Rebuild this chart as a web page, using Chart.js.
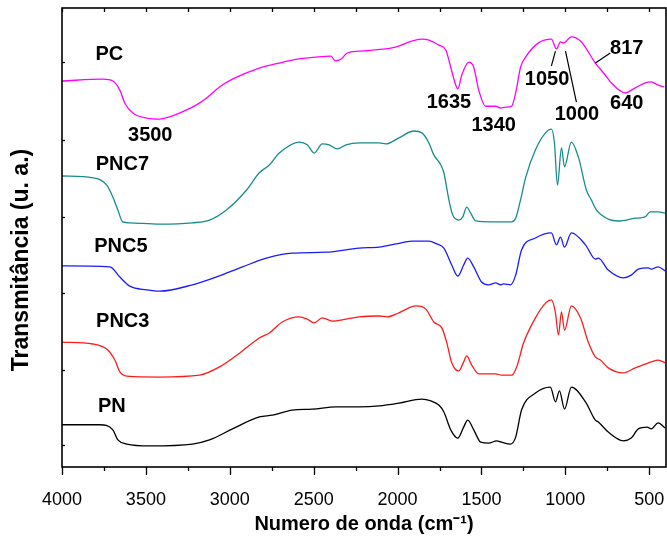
<!DOCTYPE html>
<html>
<head>
<meta charset="utf-8">
<script src="https://cdn.jsdelivr.net/npm/chart.js@4.4.0/dist/chart.umd.min.js"></script>
<style>
  html, body { margin: 0; padding: 0; background: #fff; }
</style>
</head>
<body>
<canvas id="ftirChart" width="667" height="541"></canvas>
<script>
// FTIR spectra (wavenumber in cm-1, transmittance in a.u.)
const pcWn = [4000,3756,3697,3655,3626,3578,3495,3418,3358,3257,3198,3138,3061,2984,2824,2705,2586,2485,2396,2372,2336,2300,2229,2033,1855,1813,1754,1712,1683,1653,1641,1617,1576,1546,1516,1475,1415,1386,1356,1320,1296,1267,1237,1160,1083,1053,1029,1011,964,904,821,762,726,643,583,524,488,447,411];
const pcT = [84.1,84.5,84.1,82.1,79.3,77.1,76.0,75.8,76.3,77.8,78.9,80.4,82.8,84.5,86.9,88.0,88.9,89.3,89.5,88.5,88.9,90.2,90.6,91.3,93.2,93.0,91.9,90.8,87.1,83.2,82.4,85.4,88.2,87.1,82.1,78.6,78.6,78.2,78.4,78.6,81.5,87.1,89.3,92.4,93.2,91.1,92.6,92.4,93.7,92.6,88.0,85.4,83.7,81.5,82.6,83.7,83.9,83.2,82.8];

const pnc7Wn = [4000,3816,3733,3697,3667,3638,3596,3418,3222,3121,3020,2901,2824,2764,2705,2586,2538,2497,2449,2408,2360,2307,2229,2110,2069,1992,1902,1855,1813,1784,1742,1724,1694,1671,1635,1611,1588,1564,1534,1439,1320,1296,1267,1237,1178,1118,1083,1065,1047,1023,1005,964,922,874,845,815,744,684,583,524,494,447,405];
const pnc7T = [63.4,63.0,61.4,58.8,56.0,53.4,53.2,52.9,53.2,53.8,56.0,60.3,64.1,65.8,68.4,70.8,70.2,68.4,70.4,70.2,69.3,70.2,70.6,70.6,70.4,71.7,73.2,72.8,70.6,68.0,65.8,64.1,58.2,54.9,53.8,54.5,56.6,55.3,53.6,53.4,53.4,54.2,58.2,63.0,69.1,72.8,73.6,70.6,61.4,69.5,65.4,70.8,67.5,60.3,58.2,56.0,54.0,53.6,54.2,54.5,55.6,55.6,55.3];

const pnc5Wn = [4000,3715,3655,3596,3495,3418,3222,3079,2924,2782,2627,2425,2229,2110,2009,1914,1813,1766,1724,1677,1641,1606,1582,1546,1499,1457,1415,1386,1368,1326,1296,1261,1178,1083,1053,1029,1005,964,880,821,803,744,655,607,565,506,488,447,405];
const pnc5T = [43.8,43.6,41.4,39.4,38.6,38.3,39.7,41.4,43.6,45.5,46.6,46.8,47.7,47.9,48.6,49.2,49.2,48.6,47.7,44.0,41.6,44.0,45.5,43.6,40.3,39.7,40.1,39.7,39.9,39.7,41.8,47.3,49.9,51.0,48.4,50.1,47.9,51.0,48.4,45.3,45.5,42.9,41.2,41.8,43.1,43.4,43.1,43.6,42.7];

const pnc3Wn = [4000,3816,3727,3685,3655,3614,3418,3180,3061,2942,2824,2764,2687,2586,2538,2497,2449,2390,2307,2229,2110,2063,1992,1890,1831,1784,1736,1706,1677,1635,1606,1588,1558,1516,1415,1380,1320,1290,1249,1178,1118,1083,1059,1041,1023,1005,964,910,863,821,791,744,655,583,524,488,447,405];
const pnc3T = [27.2,26.8,25.5,23.3,20.7,19.8,19.6,20.0,21.8,24.8,28.1,29.2,31.6,32.7,32.2,31.4,32.5,31.8,32.2,32.7,32.9,32.7,33.6,35.1,34.4,31.6,30.3,27.0,22.7,20.9,22.9,24.2,22.2,20.3,20.3,20.0,20.0,21.8,27.0,32.5,35.7,36.4,33.6,28.8,33.8,29.8,35.1,32.5,27.2,24.0,23.3,21.6,20.5,21.6,22.4,22.9,23.3,22.7];

const pnWn = [4000,3774,3697,3667,3614,3477,3222,3121,2984,2824,2746,2627,2509,2366,2229,2110,1992,1855,1801,1754,1724,1683,1641,1606,1582,1546,1504,1457,1409,1380,1326,1296,1261,1178,1089,1059,1035,1005,964,880,821,803,744,655,607,565,512,488,447,405];
const pnT = [9.2,9.2,8.1,5.9,5.0,4.6,5.0,5.9,8.3,10.9,11.3,12.4,12.6,13.1,13.1,13.3,13.9,14.8,14.4,13.5,12.0,8.1,6.3,8.7,10.2,8.1,5.4,5.2,5.7,5.4,5.0,6.5,12.4,16.1,17.4,14.2,16.6,12.6,17.4,14.2,10.2,9.8,7.6,5.7,6.3,8.3,8.7,8.3,9.6,8.5];

const seriesNames = ['PC', 'PNC7', 'PNC5', 'PNC3', 'PN'];
const seriesColors = ['#ff00ff', '#178c8c', '#1a1aff', '#ff1a1a', '#000000'];
const xTickVals = [4000, 3500, 3000, 2500, 2000, 1500, 1000, 500];
const xMinorVals = [3750, 3250, 2750, 2250, 1750, 1250, 750];
const yTickVals = [4.8, 21.1, 37.9, 54.5, 71.2, 88.2];
const yTitle = 'Transmitância (u. a.)';

// text on the plot: [text, wavenumber, transmittance]
const curveLabels = [
  ['PC', 3718, 89.8], ['PNC7', 3640, 65.8], ['PNC5', 3649, 48.1],
  ['PNC3', 3638, 31.8], ['PN', 3703, 13.1]
];
const peakLabels = [
  ['3500', 3474, 72.3], ['1635', 1694, 79.5], ['1340', 1427, 74.3],
  ['1050', 1109, 84.5], ['1000', 931, 76.7], ['817', 634, 91.1], ['640', 634, 79.1]
];
const leaderLines = [
  [1059, 90.6, 1083, 87.4],
  [999, 90.6, 934, 79.5],
  [821, 88.0, 732, 90.2]
];

const wnSets = [pcWn, pnc7Wn, pnc5Wn, pnc3Wn, pnWn];
const tSets = [pcT, pnc7T, pnc5T, pnc3T, pnT];

const datasets = seriesNames.map((name, i) => ({
  label: name,
  data: wnSets[i].map((w, k) => ({ x: w, y: tSets[i][k] })),
  borderColor: seriesColors[i],
  borderWidth: 1.3,
  pointRadius: 0,
  cubicInterpolationMode: 'monotone',
  fill: false
}));

const framePlugin = {
  id: 'framePlugin',
  afterDraw(chart) {
    const { ctx, chartArea: a, scales: { x, y } } = chart;
    ctx.save();
    ctx.strokeStyle = '#000';
    ctx.lineWidth = 1.6;
    ctx.strokeRect(a.left, a.top, a.right - a.left, a.bottom - a.top);

    ctx.lineWidth = 1.3;
    xTickVals.concat(xMinorVals).forEach(v => {
      const px = Math.round(x.getPixelForValue(v)) + 0.5;
      const major = xTickVals.includes(v);
      ctx.beginPath();
      ctx.moveTo(px, a.bottom);
      ctx.lineTo(px, a.bottom + (major ? 8 : 4));
      ctx.moveTo(px, a.top);
      ctx.lineTo(px, a.top + 4);
      ctx.stroke();
    });
    yTickVals.forEach(v => {
      const py = Math.round(y.getPixelForValue(v)) + 0.5;
      ctx.beginPath();
      ctx.moveTo(a.left, py);
      ctx.lineTo(a.left + 3, py);
      ctx.stroke();
    });

    ctx.fillStyle = '#000';
    ctx.font = 'bold 20px "Liberation Sans", Arial, sans-serif';
    ctx.textAlign = 'center';
    ctx.textBaseline = 'middle';
    curveLabels.concat(peakLabels).forEach(([t, w, v]) => {
      ctx.fillText(t, x.getPixelForValue(w), y.getPixelForValue(v));
    });

    ctx.lineWidth = 1.2;
    leaderLines.forEach(([w1, v1, w2, v2]) => {
      ctx.beginPath();
      ctx.moveTo(x.getPixelForValue(w1), y.getPixelForValue(v1));
      ctx.lineTo(x.getPixelForValue(w2), y.getPixelForValue(v2));
      ctx.stroke();
    });

    // y title sits a bit below the middle of the axis in the original
    ctx.translate(22, 260);
    ctx.rotate(-Math.PI / 2);
    ctx.font = 'bold 23px "Liberation Sans", Arial, sans-serif';
    ctx.fillText(yTitle, 0, 0);
    ctx.restore();
  }
};

new Chart(document.getElementById('ftirChart').getContext('2d'), {
  type: 'line',
  data: { datasets },
  options: {
    responsive: false,
    animation: false,
    layout: { padding: { top: 8, right: 1, left: 0, bottom: 0 } },
    plugins: { legend: { display: false }, tooltip: { enabled: false } },
    scales: {
      x: {
        type: 'linear',
        reverse: true,
        min: 400,
        max: 4000,
        afterBuildTicks: s => { s.ticks = xTickVals.map(v => ({ value: v })); },
        afterFit: s => { s.height = 74; s.paddingLeft = 0; s.paddingRight = 0; },
        grid: { display: false },
        border: { display: false },
        ticks: {
          color: '#000',
          padding: 14,
          maxRotation: 0,
          autoSkip: false,
          callback: v => String(v),
          font: { family: '"Liberation Sans", Arial, sans-serif', size: 18 }
        },
        title: {
          display: true,
          text: 'Numero de onda (cm⁻¹)',
          color: '#000',
          padding: { top: 0, bottom: 5 },
          font: { family: '"Liberation Sans", Arial, sans-serif', size: 20, weight: 'bold' }
        }
      },
      y: {
        min: 0,
        max: 100,
        afterFit: s => { s.width = 62; },
        grid: { display: false },
        border: { display: false },
        ticks: { display: false },
        title: { display: false }
      }
    }
  },
  plugins: [framePlugin]
});
</script>
</body>
</html>
